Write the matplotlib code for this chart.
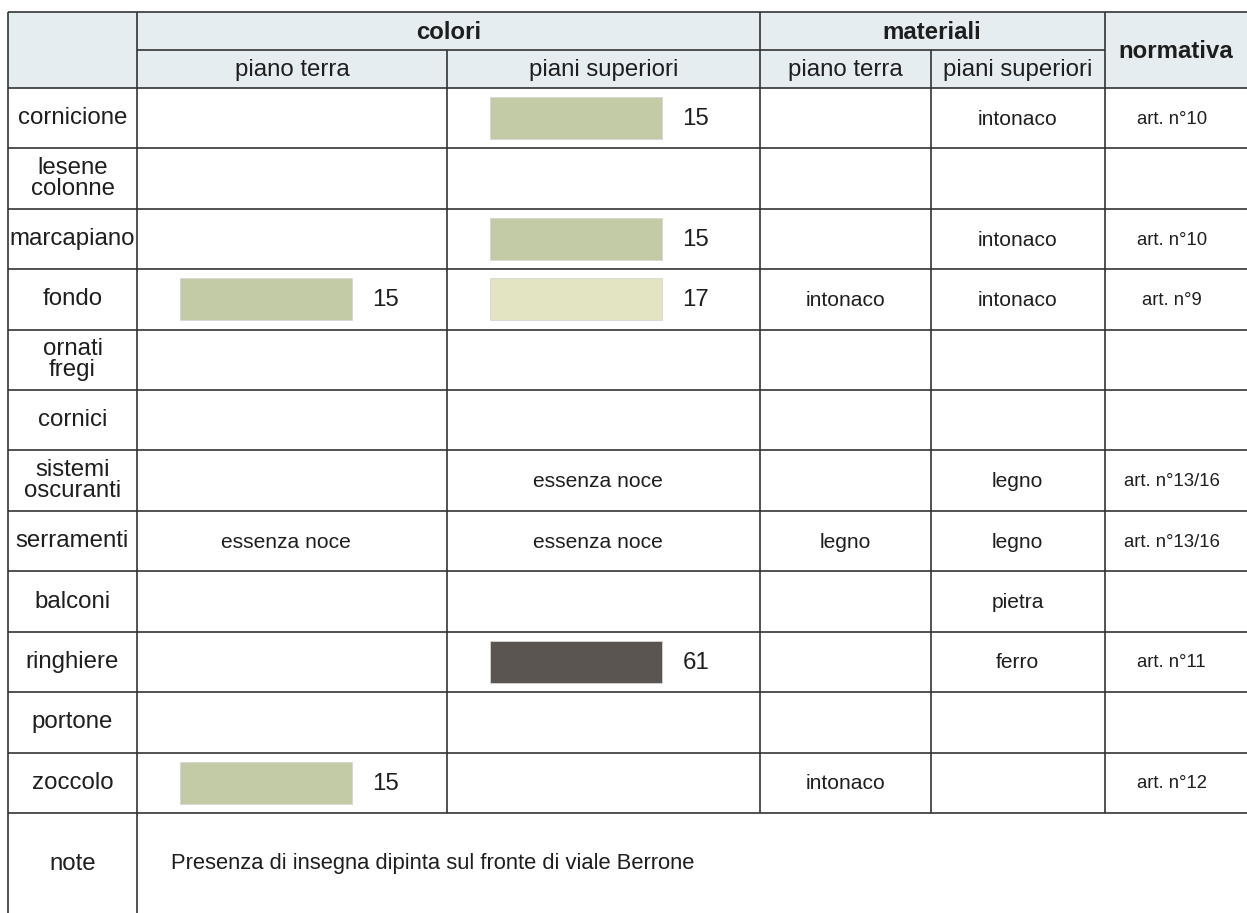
import matplotlib
matplotlib.use("Agg")
import matplotlib.pyplot as plt
from matplotlib.patches import Rectangle
from matplotlib import font_manager

# ---------------- data ----------------
rows = ["cornicione", "lesene\ncolonne", "marcapiano", "fondo", "ornati\nfregi",
        "cornici", "sistemi\noscuranti", "serramenti", "balconi", "ringhiere",
        "portone", "zoccolo"]
colori_piano_terra = ["", "", "", "15", "", "", "", "essenza noce", "", "", "", "15"]
colori_piani_superiori = ["15", "", "15", "17", "", "", "essenza noce", "essenza noce",
                          "", "61", "", ""]
materiali_piano_terra = ["", "", "", "intonaco", "", "", "", "legno", "", "", "", "intonaco"]
materiali_piani_superiori = ["intonaco", "", "intonaco", "intonaco", "", "", "legno",
                             "legno", "pietra", "ferro", "", ""]
normativa = ["art. n°10", "", "art. n°10", "art. n°9", "", "", "art. n°13/16",
             "art. n°13/16", "", "art. n°11", "", "art. n°12"]
swatch_colors = {"15": "#c3caa6", "17": "#e3e4c1", "61": "#5b5552"}
group_headers = ["colori", "materiali", "normativa"]
sub_headers = ["piano terra", "piani superiori", "piano terra", "piani superiori"]
note_label = "note"
note_text = "Presenza di insegna dipinta sul fronte di viale Berrone"

# ---------------- layout (pixels) ----------------
W, H = 1247, 913
col_x = [8, 137, 447, 760, 931, 1104.5, 1247]
y_top, y_mid, y_head = 12, 50.5, 88
row_h = (813 - 88) / 12
row_y = [y_head + i * row_h for i in range(len(rows) + 1)]
y_end = H

LINE = "#333333"
HEADER_BG = "#e5edf1"
TXT = "#1e1e1e"

names = {f.name for f in font_manager.fontManager.ttflist}
FONT = "Liberation Sans" if "Liberation Sans" in names else "DejaVu Sans"

px = 0.72  # points per pixel at dpi 100
fig = plt.figure(figsize=(W / 100, H / 100), dpi=100)
ax = fig.add_axes([0, 0, 1, 1])
ax.set_xlim(0, W)
ax.set_ylim(H, 0)
ax.axis("off")

# header background
ax.add_patch(Rectangle((col_x[0], y_top), W - col_x[0], y_head - y_top,
                       facecolor=HEADER_BG, edgecolor="none", zorder=0))

lw = 1.2
def hline(y, x0, x1):
    ax.plot([x0, x1], [y, y], color=LINE, lw=lw, solid_capstyle="butt", zorder=3)
def vline(x, y0, y1):
    ax.plot([x, x], [y0, y1], color=LINE, lw=lw, solid_capstyle="butt", zorder=3)

hline(y_top, col_x[0], W)
hline(y_mid, col_x[1], col_x[5])
for y in row_y:
    hline(y, col_x[0], W)
vline(col_x[0], y_top, y_end)
vline(col_x[1], y_top, y_end)
vline(col_x[2], y_mid, row_y[-1])
vline(col_x[3], y_top, row_y[-1])
vline(col_x[4], y_mid, row_y[-1])
vline(col_x[5], y_top, row_y[-1])

# headers
ax.text((col_x[1] + col_x[3]) / 2, (y_top + y_mid) / 2 + 1, group_headers[0],
        ha="center", va="center", fontsize=24 * px, fontweight="bold", family=FONT, color=TXT)
ax.text((col_x[3] + col_x[5]) / 2, (y_top + y_mid) / 2 + 1, group_headers[1],
        ha="center", va="center", fontsize=24 * px, fontweight="bold", family=FONT, color=TXT)
ax.text((col_x[5] + W) / 2, (y_top + y_head) / 2 + 1, group_headers[2],
        ha="center", va="center", fontsize=24 * px, fontweight="bold", family=FONT, color=TXT)
for i, s in enumerate(sub_headers):
    ax.text((col_x[i + 1] + col_x[i + 2]) / 2, (y_mid + y_head) / 2 + 1, s,
            ha="center", va="center", fontsize=24 * px, family=FONT, color=TXT)

def colour_cell(val, ci, r):
    if not val:
        return
    yc = (row_y[r] + row_y[r + 1]) / 2
    x0 = col_x[ci]
    if val in swatch_colors:
        ax.add_patch(Rectangle((x0 + 43, yc - 21), 172, 42, facecolor=swatch_colors[val],
                               edgecolor="#d6d6d6", lw=0.6, zorder=2))
        ax.text(x0 + 249, yc + 1, val, ha="center", va="center",
                fontsize=24 * px, family=FONT, color=TXT)
    else:
        ax.text((col_x[ci] + col_x[ci + 1]) / 2 - 6, yc + 1, val, ha="center", va="center",
                fontsize=21 * px, family=FONT, color=TXT)

for r, name in enumerate(rows):
    yc = (row_y[r] + row_y[r + 1]) / 2
    ax.text((col_x[0] + col_x[1]) / 2, yc, name, ha="center", va="center",
            fontsize=24 * px, family=FONT, color=TXT, linespacing=0.95)
    colour_cell(colori_piano_terra[r], 1, r)
    colour_cell(colori_piani_superiori[r], 2, r)
    if materiali_piano_terra[r]:
        ax.text((col_x[3] + col_x[4]) / 2, yc + 1, materiali_piano_terra[r], ha="center",
                va="center", fontsize=21 * px, family=FONT, color=TXT)
    if materiali_piani_superiori[r]:
        ax.text((col_x[4] + col_x[5]) / 2, yc + 1, materiali_piani_superiori[r], ha="center",
                va="center", fontsize=21 * px, family=FONT, color=TXT)
    if normativa[r]:
        ax.text((col_x[5] + W) / 2 - 4, yc + 1, normativa[r], ha="center",
                va="center", fontsize=18.5 * px, family=FONT, color=TXT)

# note row
yc = (row_y[-1] + y_end) / 2
ax.text((col_x[0] + col_x[1]) / 2, yc + 1, note_label, ha="center", va="center",
        fontsize=24 * px, family=FONT, color=TXT)
ax.text(171, yc, note_text, ha="left", va="center",
        fontsize=22 * px, family=FONT, color=TXT)

fig.savefig("out.png", dpi=100)
